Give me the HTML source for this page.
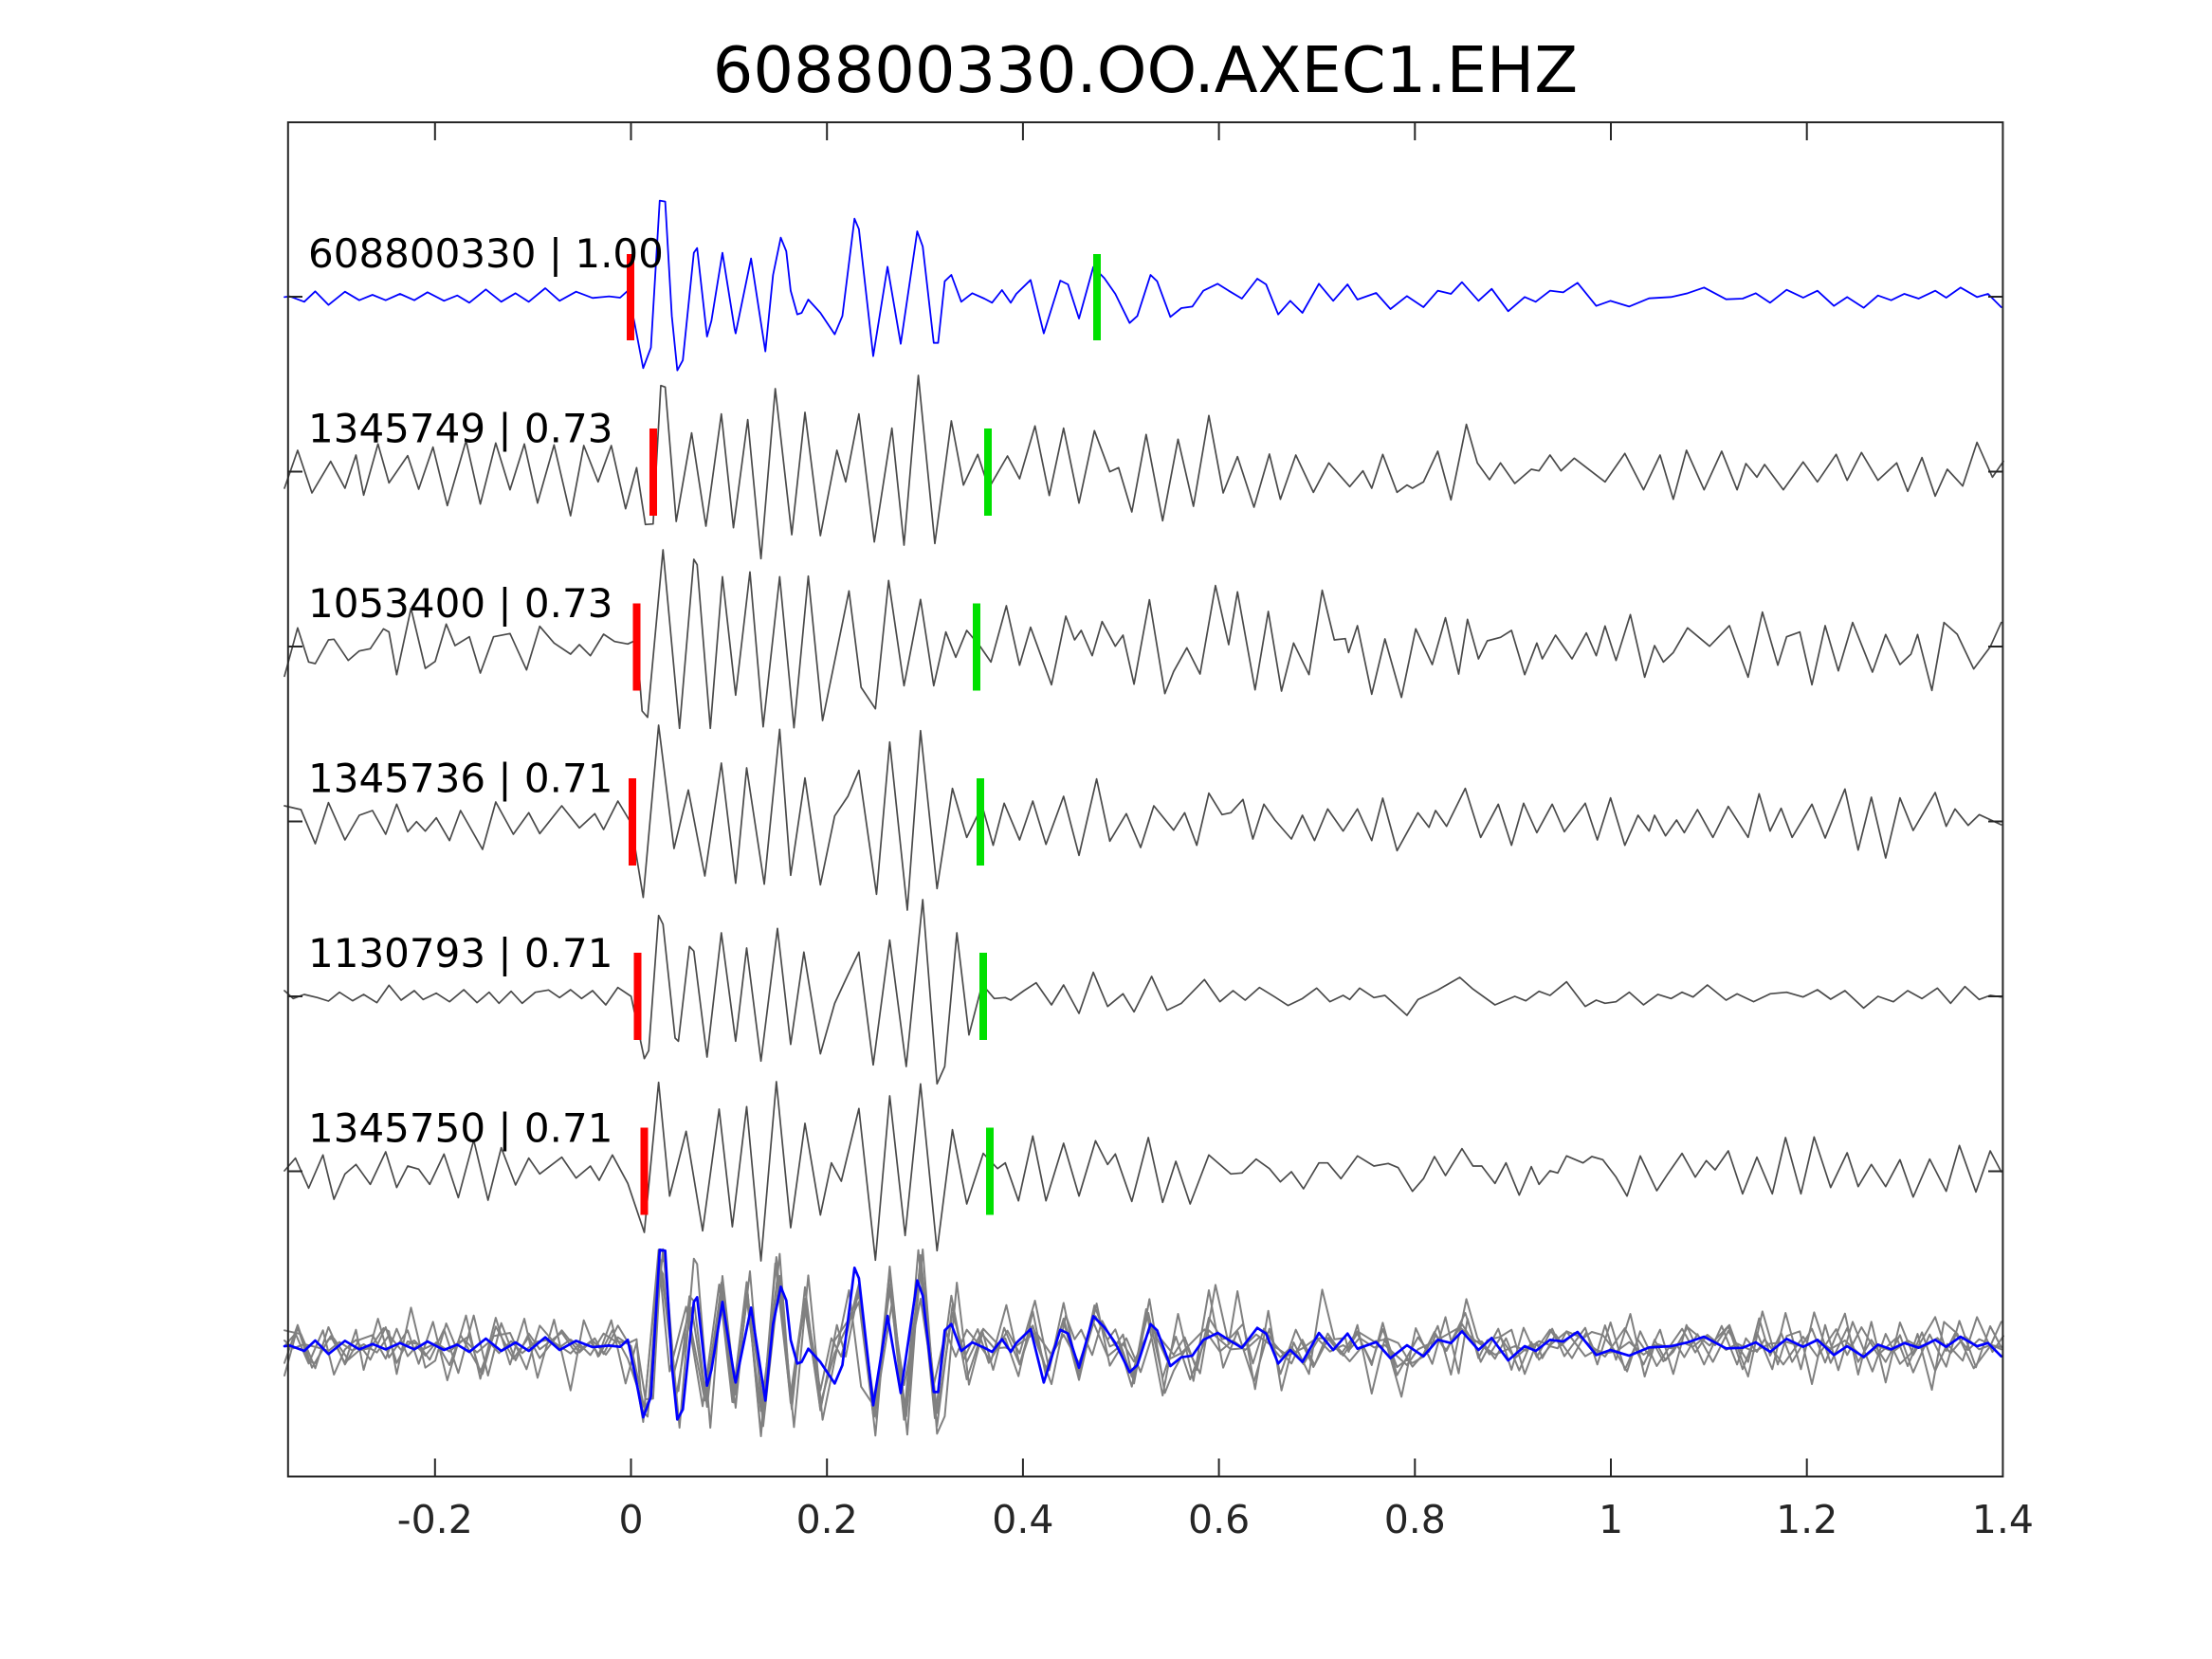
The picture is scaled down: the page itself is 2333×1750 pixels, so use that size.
<!DOCTYPE html>
<html>
<head>
<meta charset="utf-8">
<style>
  html, body { margin: 0; padding: 0; background: #ffffff; }
  svg { display: block; }
  text { font-family: "DejaVu Sans", "Liberation Sans", sans-serif; }
  .tr { fill: none; vector-effect: non-scaling-stroke; stroke-linejoin: round; stroke-linecap: round; }
</style>
</head>
<body>
<svg width="2333" height="1750" viewBox="0 0 2333 1750" xmlns="http://www.w3.org/2000/svg">
  <rect x="0" y="0" width="2333" height="1750" fill="#ffffff"/>
  <defs>
    <path id="t1" class="tr" d="M0,340 5,338 18,355 28,322 40,365 55,323 68,350 80,333 92,350 105,330 118,350 130,325 145,352 157,335 168,358 183,316 197,355 210,328 222,355 237,312 250,352 265,323 280,343 295,338 305,342 312,320 318,420 326,565 333,500 341,35 346,38 352,400 357,572 362,540 372,200 375,185 384,465 388,415 398,200 409,440 410,455 424,218 437,512 444,270 451,152 456,195 460,320 466,395 470,390 476,348 487,390 500,458 507,400 518,92 522,125 535,527 548,244 560,488 575,132 580,180 590,485 594,485 600,290 606,270 615,355 625,328 636,345 643,358 652,318 660,358 665,330 678,286 690,455 705,288 712,300 722,408 735,245 745,280 755,330 768,422 775,400 787,270 793,290 805,403 815,375 825,370 835,320 848,298 858,320 870,345 884,282 892,300 903,395 914,352 925,390 940,298 953,352 966,300 975,348 992,327 1005,378 1020,337 1035,372 1048,320 1060,330 1070,293 1085,352 1097,314 1112,385 1127,340 1137,355 1150,320 1162,325 1175,295 1192,368 1205,352 1222,370 1240,344 1260,340 1275,328 1290,310 1310,347 1325,345 1337,328 1350,358 1365,317 1380,342 1393,320 1408,368 1420,340 1435,374 1448,335 1460,350 1472,330 1485,345 1500,320 1510,342 1523,310 1538,340 1548,330 1560,372"/>
    <path id="t2" class="tr" d="M0,375 12,255 25,390 42,290 55,375 65,270 72,397 85,235 95,358 112,272 122,378 135,245 148,430 165,225 178,425 192,232 205,380 218,235 230,422 245,238 260,462 272,240 285,355 297,240 310,440 320,310 328,490 335,488 342,50 346,55 356,480 370,200 383,495 397,140 408,500 421,158 433,598 446,60 461,522 473,135 487,525 502,255 510,355 522,140 536,545 552,185 563,555 576,18 591,550 606,162 617,365 630,268 640,375 657,273 668,345 682,178 695,398 708,185 722,422 736,193 750,323 758,310 770,450 783,205 798,478 812,220 826,432 840,145 853,390 866,275 881,435 895,267 905,410 919,270 935,388 949,295 968,370 980,320 988,375 998,268 1011,388 1020,365 1025,375 1035,355 1048,258 1060,412 1074,173 1084,295 1095,348 1105,295 1118,360 1133,315 1140,320 1150,270 1160,320 1172,280 1200,355 1218,265 1235,380 1250,270 1262,410 1274,255 1290,380 1306,258 1320,380 1328,297 1338,340 1345,300 1362,380 1380,292 1393,355 1410,268 1420,350 1433,262 1448,350 1465,295 1475,385 1488,278 1500,400 1511,315 1525,368 1538,230 1552,340 1562,290"/>
    <path id="t3" class="tr" d="M0,415 12,262 22,370 28,375 40,300 45,298 58,365 68,335 78,328 90,265 95,275 102,410 115,200 128,390 137,368 147,250 155,318 168,290 178,405 190,290 205,280 220,395 232,257 245,310 260,345 268,315 278,350 290,282 300,305 312,313 320,300 325,525 330,545 344,15 359,580 372,45 375,62 387,580 398,100 410,475 423,85 435,575 450,100 463,578 476,98 489,555 513,145 524,450 537,518 549,112 563,445 578,172 590,445 601,275 610,355 620,270 632,320 642,370 656,192 668,380 678,260 697,442 710,225 718,300 724,270 734,350 743,242 755,320 762,285 772,440 786,173 800,470 808,400 820,325 832,408 846,128 858,315 866,148 882,458 894,210 906,462 917,310 931,410 943,143 954,300 964,296 967,340 975,255 988,472 1000,297 1015,482 1028,265 1043,378 1055,230 1067,408 1075,235 1085,360 1093,303 1105,292 1115,270 1127,410 1138,310 1143,360 1155,285 1170,360 1183,278 1192,350 1200,256 1210,365 1223,220 1236,418 1245,318 1253,370 1262,340 1275,262 1295,320 1313,255 1330,418 1343,212 1357,380 1365,290 1377,275 1388,442 1400,255 1412,398 1425,245 1443,402 1455,283 1468,378 1478,345 1484,283 1497,460 1508,245 1520,282 1535,392 1550,322 1560,245"/>
    <path id="t4" class="tr" d="M0,270 15,282 28,390 40,260 55,378 68,300 80,285 92,360 102,265 112,352 120,320 128,350 138,308 150,380 160,285 180,408 192,258 208,360 222,292 232,358 252,270 268,340 282,295 290,345 303,255 315,325 326,560 340,15 354,405 367,220 382,492 397,135 410,515 420,150 436,518 450,28 460,490 473,182 487,520 500,302 512,240 522,158 538,550 550,68 566,600 578,32 593,532 607,215 620,370 634,270 644,395 654,262 668,378 680,255 692,392 708,240 722,427 738,185 750,382 765,295 778,402 790,270 808,347 818,292 829,395 840,230 852,298 860,292 871,250 880,375 890,265 900,315 915,375 925,300 936,380 948,280 962,350 975,280 988,380 998,246 1011,412 1030,292 1040,338 1046,285 1056,335 1073,215 1087,370 1103,265 1115,395 1126,262 1138,355 1152,265 1163,352 1182,262 1193,378 1205,245 1218,395 1230,300 1240,350 1245,300 1255,365 1265,315 1272,355 1284,282 1298,370 1312,272 1330,370 1340,232 1350,350 1360,278 1370,370 1388,265 1400,372 1418,217 1430,410 1442,243 1455,435 1468,245 1480,348 1500,228 1510,335 1518,280 1530,332 1540,298 1560,330"/>
    <path id="t5" class="tr" d="M0,300 8,325 18,312 30,322 40,333 50,305 62,332 72,312 84,338 95,283 106,330 118,300 126,328 138,308 150,335 163,297 175,338 186,305 195,340 206,302 216,340 228,305 240,298 250,322 260,297 270,325 280,300 292,345 303,290 315,318 320,400 327,515 331,490 340,62 344,90 355,450 358,460 368,160 372,175 384,510 397,117 410,460 420,165 433,523 448,103 460,470 472,178 487,500 500,340 512,250 522,178 535,535 550,140 565,540 580,12 593,595 600,540 611,117 622,440 634,280 645,325 655,322 660,330 672,300 683,275 697,345 708,282 722,372 735,242 748,350 762,310 772,367 788,255 802,362 815,340 836,265 850,335 862,300 873,330 886,290 900,320 912,347 925,325 938,292 950,335 962,315 968,328 977,292 990,322 1000,315 1020,378 1030,328 1048,298 1068,258 1080,295 1100,345 1118,318 1128,332 1140,302 1150,315 1165,272 1182,350 1192,330 1200,340 1210,335 1222,305 1235,345 1248,312 1260,325 1270,305 1280,320 1293,282 1310,330 1320,310 1335,335 1350,310 1365,305 1380,320 1393,297 1405,327 1418,300 1435,355 1448,318 1462,335 1475,300 1488,325 1502,292 1514,340 1527,287 1540,328 1550,315 1560,320"/>
    <path id="t6" class="tr" d="M0,315 10,275 22,370 35,265 45,405 55,325 65,295 78,358 92,255 102,368 112,300 122,310 132,358 145,262 158,400 172,218 185,408 197,242 210,360 222,275 232,325 252,272 265,338 278,300 286,345 298,265 312,355 327,510 340,35 350,395 365,190 380,505 395,120 407,492 420,112 433,600 447,33 460,495 473,165 487,455 497,290 506,348 522,118 537,598 550,78 564,520 578,40 593,568 607,185 620,420 635,260 648,308 655,290 667,410 680,205 692,410 708,228 722,395 737,220 748,295 755,262 770,412 785,210 798,415 810,285 823,420 840,265 860,325 870,322 883,278 895,308 905,350 915,318 926,372 940,290 948,290 960,340 975,268 990,300 1003,292 1012,305 1025,380 1035,340 1045,270 1055,330 1070,245 1080,300 1088,300 1100,355 1110,290 1122,392 1133,302 1140,358 1150,315 1157,322 1165,268 1180,290 1188,270 1198,280 1210,335 1220,395 1232,268 1247,378 1257,325 1270,260 1282,335 1292,283 1300,312 1312,252 1325,388 1338,272 1352,388 1364,210 1378,388 1390,208 1405,368 1420,258 1430,365 1442,295 1455,365 1468,280 1480,398 1495,278 1510,380 1522,235 1537,382 1550,252 1560,318"/>
  </defs>

  <!-- Title -->
  <text x="1208" y="97" font-size="67" text-anchor="middle" fill="#000000">608800330.OO.AXEC1.EHZ</text>

  <!-- Individual traces -->
  <use href="#t1" transform="translate(300,200) scale(1.1607,0.33333)" stroke="#0000ff" stroke-width="1.8"/>
  <use href="#t2" transform="translate(300,390) scale(1.1607,0.33333)" stroke="#4a4a4a" stroke-width="1.7"/>
  <use href="#t3" transform="translate(300,575) scale(1.1607,0.33333)" stroke="#4a4a4a" stroke-width="1.7"/>
  <use href="#t4" transform="translate(300,760) scale(1.1607,0.33333)" stroke="#4a4a4a" stroke-width="1.7"/>
  <use href="#t5" transform="translate(300,945) scale(1.1607,0.33333)" stroke="#4a4a4a" stroke-width="1.7"/>
  <use href="#t6" transform="translate(300,1130) scale(1.1607,0.33333)" stroke="#4a4a4a" stroke-width="1.7"/>

  <!-- Overlay stack -->
  <use href="#t2" transform="translate(300,1312.7) scale(1.1607,0.33333)" stroke="#808080" stroke-width="2"/>
  <use href="#t3" transform="translate(300,1312.7) scale(1.1607,0.33333)" stroke="#808080" stroke-width="2"/>
  <use href="#t4" transform="translate(300,1313.3) scale(1.1607,0.33333)" stroke="#808080" stroke-width="2"/>
  <use href="#t5" transform="translate(300,1314) scale(1.1607,0.33333)" stroke="#808080" stroke-width="2"/>
  <use href="#t6" transform="translate(300,1315) scale(1.1607,0.33333)" stroke="#808080" stroke-width="2"/>
  <use href="#t1" transform="translate(300,1306.7) scale(1.1607,0.33333)" stroke="#0000ff" stroke-width="2.7"/>

  <!-- Picks -->
  <g>
    <rect x="661" y="268" width="8" height="91" fill="#ff0000"/>
    <rect x="1153" y="268" width="8" height="91" fill="#00e000"/>
    <rect x="685" y="452" width="8" height="92" fill="#ff0000"/>
    <rect x="1038" y="452" width="8" height="92" fill="#00e000"/>
    <rect x="667.5" y="636.5" width="8" height="92" fill="#ff0000"/>
    <rect x="1026" y="636.5" width="8" height="92" fill="#00e000"/>
    <rect x="663" y="821" width="8" height="92" fill="#ff0000"/>
    <rect x="1030" y="821" width="8" height="92" fill="#00e000"/>
    <rect x="668.5" y="1005" width="8" height="92" fill="#ff0000"/>
    <rect x="1033" y="1005" width="8" height="92" fill="#00e000"/>
    <rect x="675.5" y="1189.5" width="8" height="92" fill="#ff0000"/>
    <rect x="1040" y="1189.5" width="8" height="92" fill="#00e000"/>
  </g>

  <!-- Trace labels -->
  <g font-size="42" fill="#000000">
    <text x="325" y="282">608800330 | 1.00</text>
    <text x="325" y="466.5">1345749 | 0.73</text>
    <text x="325" y="651">1053400 | 0.73</text>
    <text x="325" y="835.5">1345736 | 0.71</text>
    <text x="325" y="1020">1130793 | 0.71</text>
    <text x="325" y="1204.5">1345750 | 0.71</text>
  </g>

  <!-- Axes box -->
  <rect x="303.8" y="129" width="1808.6" height="1428.5" fill="none" stroke="#262626" stroke-width="2"/>

  <!-- X ticks -->
  <g stroke="#262626" stroke-width="2">
    <line x1="458.8" y1="1557.5" x2="458.8" y2="1538.5"/><line x1="458.8" y1="129" x2="458.8" y2="148"/>
    <line x1="665.5" y1="1557.5" x2="665.5" y2="1538.5"/><line x1="665.5" y1="129" x2="665.5" y2="148"/>
    <line x1="872.2" y1="1557.5" x2="872.2" y2="1538.5"/><line x1="872.2" y1="129" x2="872.2" y2="148"/>
    <line x1="1078.9" y1="1557.5" x2="1078.9" y2="1538.5"/><line x1="1078.9" y1="129" x2="1078.9" y2="148"/>
    <line x1="1285.6" y1="1557.5" x2="1285.6" y2="1538.5"/><line x1="1285.6" y1="129" x2="1285.6" y2="148"/>
    <line x1="1492.3" y1="1557.5" x2="1492.3" y2="1538.5"/><line x1="1492.3" y1="129" x2="1492.3" y2="148"/>
    <line x1="1699" y1="1557.5" x2="1699" y2="1538.5"/><line x1="1699" y1="129" x2="1699" y2="148"/>
    <line x1="1905.7" y1="1557.5" x2="1905.7" y2="1538.5"/><line x1="1905.7" y1="129" x2="1905.7" y2="148"/>
  </g>

  <!-- Y ticks at trace baselines -->
  <g stroke="#262626" stroke-width="2">
    <line x1="303.8" y1="313" x2="319" y2="313"/><line x1="2112.4" y1="313" x2="2097" y2="313"/>
    <line x1="303.8" y1="497.5" x2="319" y2="497.5"/><line x1="2112.4" y1="497.5" x2="2097" y2="497.5"/>
    <line x1="303.8" y1="682" x2="319" y2="682"/><line x1="2112.4" y1="682" x2="2097" y2="682"/>
    <line x1="303.8" y1="866.5" x2="319" y2="866.5"/><line x1="2112.4" y1="866.5" x2="2097" y2="866.5"/>
    <line x1="303.8" y1="1051" x2="319" y2="1051"/><line x1="2112.4" y1="1051" x2="2097" y2="1051"/>
    <line x1="303.8" y1="1235.5" x2="319" y2="1235.5"/><line x1="2112.4" y1="1235.5" x2="2097" y2="1235.5"/>
  </g>

  <!-- X tick labels -->
  <g font-size="41" fill="#262626" text-anchor="middle">
    <text x="458.8" y="1617">-0.2</text>
    <text x="665.5" y="1617">0</text>
    <text x="872.2" y="1617">0.2</text>
    <text x="1078.9" y="1617">0.4</text>
    <text x="1285.6" y="1617">0.6</text>
    <text x="1492.3" y="1617">0.8</text>
    <text x="1699" y="1617">1</text>
    <text x="1905.7" y="1617">1.2</text>
    <text x="2112.4" y="1617">1.4</text>
  </g>
</svg>
</body>
</html>
